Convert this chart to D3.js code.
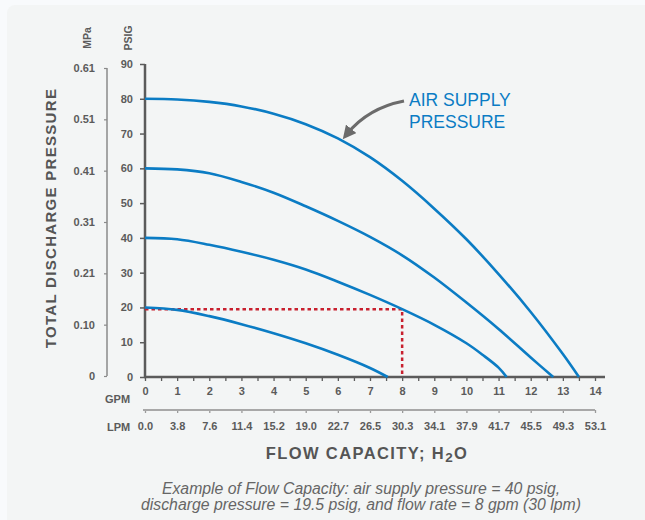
<!DOCTYPE html>
<html>
<head>
<meta charset="utf-8">
<script src="https://cdn.jsdelivr.net/npm/d3@7"></script>
<style>
  html, body { margin: 0; padding: 0; background: #f8fafc; }
  svg { display: block; font-family: "Liberation Sans", Arial, sans-serif; }
</style>
</head>
<body>
<svg id="chart" width="645" height="520"></svg>
<script>
// ---- data ----
const gpmTicks = [0,1,2,3,4,5,6,7,8,9,10,11,12,13,14];
const lpmLabels = ["0.0","3.8","7.6","11.4","15.2","19.0","22.7","26.5","30.3","34.1","37.9","41.7","45.5","49.3","53.1"];
const psigTicks = [0,10,20,30,40,50,60,70,80,90];
const mpaLabels = ["0","0.10","0.21","0.31","0.41","0.51","0.61"];

const curve80 = [[0,80],[1,79.8],[2,79.1],[3,77.8],[4,75.7],[5,72.7],[6,68.6],[7,63.2],[8,56.4],[9,48.4],[10,39.6],[11,29.6],[12,18.7],[13,6.6],[13.5,0]];
const curve60 = [[0,60],[1,59.7],[2,58.6],[3,56.1],[4,53.0],[5,49.1],[6,44.9],[7,40.3],[8,35.0],[9,28.6],[10,21.4],[11,13.8],[12,5.6],[12.7,0]];
const curve40 = [[0,40],[1,39.6],[2,38.0],[3,36.0],[4,33.7],[5,30.9],[6,27.4],[7,23.6],[8,19.5],[9,15.0],[10,9.7],[10.5,6.4],[11,2.7],[11.25,0]];
const curve20 = [[0,20],[1,19.3],[2,17.5],[3,15.2],[4,12.6],[5,9.7],[6,6.4],[7,2.6],[7.55,0]];
const curves = [curve80, curve60, curve40, curve20];

const example = { gpm: 8, psig: 19.5 };

// ---- layout ----
const svg = d3.select("#chart");
const grey = "#5b5b5b";
const blue = "#0b7cc4";

svg.append("rect").attr("x", 7).attr("y", 5).attr("width", 660).attr("height", 540)
  .attr("rx", 8).attr("fill", "#f3f5f5");

const x = d3.scaleLinear().domain([0, 14]).range([145, 595]);
const y = d3.scaleLinear().domain([0, 90]).range([377, 64]);
const yM = d3.scalePoint().domain(mpaLabels).range([376, 68]);

// PSIG axis
const gy = svg.append("g").attr("transform", `translate(${x(0)},0)`)
  .call(d3.axisLeft(y).tickValues(psigTicks).tickSize(5).tickPadding(7));
gy.select(".domain").remove();
gy.selectAll(".tick line").attr("stroke", grey).attr("stroke-width", 1.5);
gy.selectAll(".tick text").attr("fill", grey).attr("font-size", 11).attr("font-weight", "bold");
svg.append("line").attr("x1", x(0)).attr("x2", x(0)).attr("y1", y(90)).attr("y2", y(0) + 1)
  .attr("stroke", grey).attr("stroke-width", 2.5);

// MPa axis
const gm = svg.append("g").attr("transform", "translate(107,0)")
  .call(d3.axisLeft(yM).tickSize(3).tickPadding(9));
gm.select(".domain").remove();
gm.selectAll(".tick line").attr("stroke", "#8a8a8a").attr("stroke-width", 1.2);
gm.selectAll(".tick text").attr("fill", grey).attr("font-size", 11).attr("font-weight", "bold");
svg.append("line").attr("x1", 107).attr("x2", 107).attr("y1", yM(mpaLabels[mpaLabels.length-1])).attr("y2", yM("0"))
  .attr("stroke", "#8a8a8a").attr("stroke-width", 1.5);

// unit headers
svg.append("text").attr("transform", "translate(91,38) rotate(-90)").attr("text-anchor", "middle")
  .attr("font-size", 10.5).attr("font-weight", "bold").attr("fill", grey).text("MPa");
svg.append("text").attr("transform", "translate(132,38) rotate(-90)").attr("text-anchor", "middle")
  .attr("font-size", 10.5).attr("font-weight", "bold").attr("fill", grey).text("PSIG");

// GPM axis
const gx = svg.append("g").attr("transform", `translate(0,${y(0)})`)
  .call(d3.axisBottom(x).tickValues(gpmTicks).tickSize(4).tickPadding(6).tickFormat(d3.format("d")));
gx.select(".domain").remove();
gx.selectAll(".tick line").attr("stroke", grey).attr("stroke-width", 1.3);
gx.selectAll(".tick text").attr("fill", grey).attr("font-size", 11).attr("font-weight", "bold");
const minor = gpmTicks.slice(0, -1).map(d => d + 0.5);
const gxm = svg.append("g").attr("transform", `translate(0,${y(0)})`)
  .call(d3.axisBottom(x).tickValues(minor).tickSize(4).tickFormat(""));
gxm.select(".domain").remove();
gxm.selectAll(".tick line").attr("stroke", grey).attr("stroke-width", 1.3);
svg.append("line").attr("x1", x(0) - 1).attr("x2", x(14) + 10).attr("y1", y(0)).attr("y2", y(0))
  .attr("stroke", grey).attr("stroke-width", 2.5);
svg.append("text").attr("x", 105).attr("y", 403).attr("font-size", 11).attr("font-weight", "bold")
  .attr("fill", grey).text("GPM");

// LPM axis
const lpmY = 410;
const gl = svg.append("g").attr("transform", `translate(0,${lpmY})`)
  .call(d3.axisBottom(x).tickValues(gpmTicks).tickSize(3).tickPadding(9).tickFormat((d, i) => lpmLabels[i]));
gl.select(".domain").remove();
gl.selectAll(".tick line").attr("stroke", "#9a9a9a").attr("stroke-width", 1.3);
gl.selectAll(".tick text").attr("fill", grey).attr("font-size", 11).attr("font-weight", "bold");
svg.append("line").attr("x1", x(0) - 2).attr("x2", x(14)).attr("y1", lpmY).attr("y2", lpmY)
  .attr("stroke", "#a8a8a8").attr("stroke-width", 2);
svg.append("text").attr("x", 107).attr("y", 431).attr("font-size", 11).attr("font-weight", "bold")
  .attr("fill", grey).text("LPM");

// example dashed lines
svg.append("path")
  .attr("d", d3.line()([[x(0), y(example.psig)], [x(example.gpm), y(example.psig)], [x(example.gpm), y(0)]]))
  .attr("fill", "none").attr("stroke", "#c8202e").attr("stroke-width", 2.5).attr("stroke-dasharray", "3.5,3");

// curves
const line = d3.line().x(d => x(d[0])).y(d => y(d[1])).curve(d3.curveCatmullRom.alpha(0.5));
svg.append("g").selectAll("path").data(curves).join("path")
  .attr("d", line).attr("fill", "none").attr("stroke", blue).attr("stroke-width", 2.6);

// annotation
svg.append("defs").append("marker").attr("id", "ah").attr("viewBox", "0 0 10 10")
  .attr("refX", 5).attr("refY", 5).attr("markerWidth", 4.2).attr("markerHeight", 4.2)
  .attr("orient", "auto").attr("markerUnits", "strokeWidth")
  .append("path").attr("d", "M0,0 L10,5 L0,10 z").attr("fill", "#6b6b6b");
svg.append("path").attr("d", "M404,101 Q368,108 347,134")
  .attr("fill", "none").attr("stroke", "#6b6b6b").attr("stroke-width", 3.2).attr("marker-end", "url(#ah)");
svg.append("text").attr("x", 409).attr("y", 106).attr("font-size", 17.5).attr("fill", blue).text("AIR SUPPLY");
svg.append("text").attr("x", 409).attr("y", 128).attr("font-size", 17.5).attr("fill", blue).text("PRESSURE");

// titles
svg.append("text").attr("transform", "translate(56,218) rotate(-90)").attr("text-anchor", "middle")
  .attr("font-size", 15).attr("font-weight", "bold").attr("letter-spacing", 1.3).attr("fill", "#555")
  .text("TOTAL DISCHARGE PRESSURE");
const xt = svg.append("text").attr("x", 367).attr("y", 459).attr("text-anchor", "middle")
  .attr("font-size", 16.5).attr("font-weight", "bold").attr("letter-spacing", 1.4).attr("fill", "#555");
xt.append("tspan").text("FLOW CAPACITY; H");
xt.append("tspan").attr("dy", 3).attr("font-size", 13.5).text("2");
xt.append("tspan").attr("dy", -3).text("O");

svg.append("text").attr("x", 361).attr("y", 494).attr("text-anchor", "middle")
  .attr("font-size", 15.8).attr("font-style", "italic").attr("fill", "#666")
  .text("Example of Flow Capacity: air supply pressure = 40 psig,");
svg.append("text").attr("x", 361).attr("y", 510).attr("text-anchor", "middle")
  .attr("font-size", 15.8).attr("font-style", "italic").attr("fill", "#666")
  .text("discharge pressure = 19.5 psig, and flow rate = 8 gpm (30 lpm)");
</script>
</body>
</html>
